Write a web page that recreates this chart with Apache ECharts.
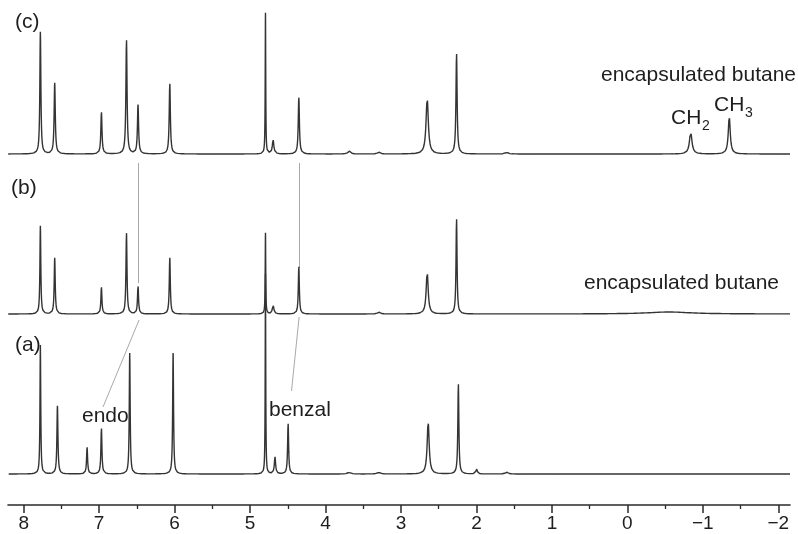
<!DOCTYPE html>
<html>
<head>
<meta charset="utf-8">
<script src="https://cdn.jsdelivr.net/npm/echarts@6/dist/echarts.min.js"></script>
<style>
  html, body { margin: 0; padding: 0; background: #fff; }
  #chart { width: 798px; height: 534px; }
</style>
</head>
<body>
<div id="chart"></div>
<script>
// chemical shift axis (ppm, inverted)
const xMin = -2.155
const xMax = 8.208
const majorTicks = [8, 7, 6, 5, 4, 3, 2, 1, 0, -1, -2]
const minorTicks = [7.5, 6.5, 5.5, 4.5, 3.5, 2.5, 1.5, 0.5, -0.5, -1.5]

// peaks: [ppm, height, half width]
const peaksC = [
  [7.779, 122, 0.008], [7.589, 71, 0.009], [6.970, 42, 0.009], [6.638, 115, 0.009],
  [6.485, 49, 0.009], [6.064, 71, 0.009], [4.796, 141, 0.004], [4.695, 14, 0.012],
  [4.354, 57, 0.009], [3.687, 3, 0.02], [3.294, 2, 0.02], [2.653, 56, 0.018],
  [2.264, 101, 0.009], [1.601, 2, 0.02], [-0.839, 22, 0.02], [-1.350, 37, 0.016]
]
const peaksB = [
  [7.779, 88, 0.007], [7.589, 56, 0.008], [6.970, 27, 0.008], [6.638, 82, 0.008],
  [6.485, 29, 0.008], [6.064, 57, 0.008], [4.796, 81, 0.004], [4.695, 9, 0.012],
  [4.354, 48, 0.008], [3.294, 2, 0.02], [2.653, 42, 0.016], [2.264, 96, 0.008],
  [-0.55, 2, 0.35]
]
const peaksA = [
  [7.779, 129, 0.006], [7.553, 68, 0.008], [7.160, 27, 0.008], [6.970, 46, 0.008],
  [6.595, 121, 0.007], [6.020, 121, 0.007], [4.796, 200, 0.004], [4.670, 17, 0.01],
  [4.496, 51, 0.008], [3.687, 2, 0.02], [3.294, 2, 0.02], [2.640, 52, 0.016],
  [2.240, 91, 0.008], [2.000, 6, 0.01], [1.601, 2, 0.02]
]

// trace baselines (plot units = pixels above the axis line)
const baseC = 351
const baseB = 191
const baseA = 31

// correlation guide segments: [[ppm, y], [ppm, y]]
const guideLines = [
  [[6.485, 342], [6.485, 222]],
  [[6.471, 185], [6.949, 98]],
  [[4.354, 342], [4.354, 237]],
  [[4.350, 188], [4.451, 114]]
]

const font = 'Liberation Sans, Arial, sans-serif'
const textColor = '#1e1e1e'

function spectrum(peaks, base) {
  const xs = []
  for (let x = xMin; x <= xMax; x += 0.002) xs.push(x)
  peaks.forEach(p => xs.push(p[0]))
  xs.sort((a, b) => a - b)
  return xs.map(x => {
    let y = base
    peaks.forEach(([c, h, w]) => {
      y += h / (1 + ((x - c) / w) ** 2)
    })
    return [x, y]
  })
}

function label(text, x, y, align, size) {
  return {
    type: 'text',
    x: x,
    y: y,
    silent: true,
    style: {
      text: text,
      fill: textColor,
      font: (size || 21) + 'px ' + font,
      align: align || 'left',
      verticalAlign: 'middle'
    }
  }
}

const traceStyle = { color: '#343434', width: 1.4 }

function trace(name, peaks, base) {
  return {
    name: name,
    type: 'line',
    data: spectrum(peaks, base),
    showSymbol: false,
    symbol: 'none',
    sampling: null,
    silent: true,
    z: 3,
    lineStyle: traceStyle
  }
}

const chart = echarts.init(document.getElementById('chart'), null, { renderer: 'canvas' })

chart.setOption({
  animation: false,
  backgroundColor: '#fff',
  grid: { left: 8, right: 8, top: 0, bottom: 29, outerBoundsMode: 'none' },
  xAxis: [
    {
      type: 'value',
      inverse: true,
      min: xMin,
      max: xMax,
      position: 'bottom',
      axisLine: { show: true, onZero: false, lineStyle: { color: '#2a2a2a', width: 1.6 } },
      axisTick: { show: true, length: 8, customValues: majorTicks, lineStyle: { color: '#2a2a2a', width: 1.5 } },
      axisLabel: {
        customValues: majorTicks,
        margin: 9,
        color: textColor,
        fontSize: 19,
        fontFamily: font,
        formatter: v => (v < 0 ? '\u2212' + Math.abs(v) : String(v))
      },
      splitLine: { show: false }
    },
    {
      type: 'value',
      inverse: true,
      min: xMin,
      max: xMax,
      position: 'bottom',
      axisLine: { show: false, onZero: false },
      axisTick: { show: true, length: 4, customValues: minorTicks, lineStyle: { color: '#2a2a2a', width: 1.3 } },
      axisLabel: { show: false },
      splitLine: { show: false }
    }
  ],
  yAxis: { type: 'value', min: 0, max: 505, show: false, splitLine: { show: false } },
  series: [
    {
      type: 'lines',
      coordinateSystem: 'cartesian2d',
      silent: true,
      z: 1,
      lineStyle: { color: '#a9a9a9', width: 1, opacity: 1 },
      data: guideLines.map(seg => ({ coords: seg }))
    },
    trace('c', peaksC, baseC),
    trace('b', peaksB, baseB),
    trace('a', peaksA, baseA)
  ],
  graphic: [
    label('(c)', 15, 22),
    label('(b)', 11, 188),
    label('(a)', 15, 345),
    label('encapsulated butane', 796, 75, 'right'),
    label('encapsulated butane', 779, 283, 'right'),
    label('CH', 671, 118),
    label('2', 702, 126, 'left', 14),
    label('CH', 714, 105),
    label('3', 745, 113, 'left', 14),
    label('endo', 82, 416),
    label('benzal', 269, 410)
  ]
})
</script>
</body>
</html>
